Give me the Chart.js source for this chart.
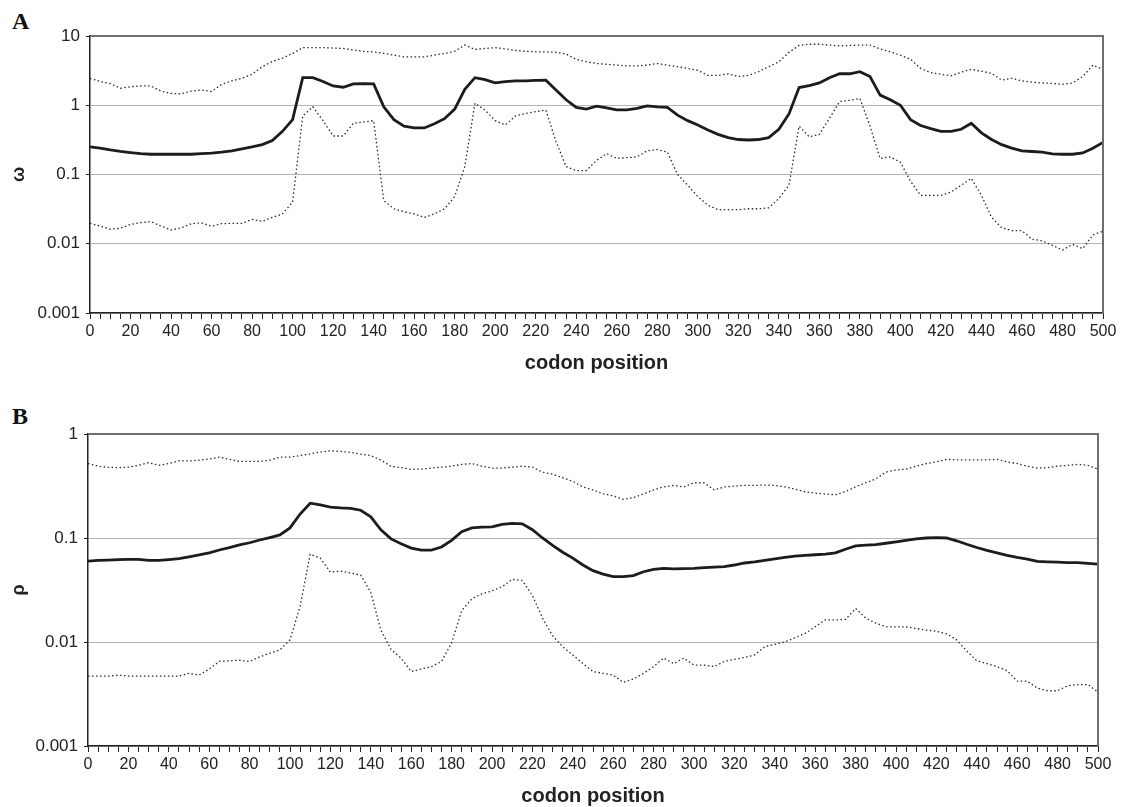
<!DOCTYPE html>
<html>
<head>
<meta charset="utf-8">
<script src="https://cdn.jsdelivr.net/npm/chart.js@4.4.1/dist/chart.umd.min.js"></script>
<style>
  body { margin: 0; background: #fff; width: 1125px; height: 807px; position: relative; overflow: hidden; }
  canvas { position: absolute; left: 0; }
  #chartA { top: 0; }
  #chartB { top: 400px; }
  .panel { position: absolute; left: 12px; font: bold 24px "Liberation Serif", "Times New Roman", serif; line-height: 1; color: #111; }
</style>
</head>
<body>
<div class="panel" style="top:9px">A</div>
<div class="panel" style="top:404px">B</div>
<canvas id="chartA" width="1125" height="375"></canvas>
<canvas id="chartB" width="1125" height="408"></canvas>
<script>
// codon positions, sampled every 5
const positions = [0,5,10,15,20,25,30,35,40,45,50,55,60,65,70,75,80,85,90,95,
  100,105,110,115,120,125,130,135,140,145,150,155,160,165,170,175,180,185,190,195,
  200,205,210,215,220,225,230,235,240,245,250,255,260,265,270,275,280,285,290,295,
  300,305,310,315,320,325,330,335,340,345,350,355,360,365,370,375,380,385,390,395,
  400,405,410,415,420,425,430,435,440,445,450,455,460,465,470,475,480,485,490,495,500];

// panel A: omega (mean, upper and lower bounds)
const omegaMean = [0.25,0.24,0.226,0.215,0.207,0.2,0.196,0.196,0.196,0.196,
  0.196,0.2,0.203,0.21,0.22,0.235,0.25,0.27,0.31,0.42,
  0.62,2.5,2.5,2.2,1.9,1.82,2.03,2.05,2.03,0.95,
  0.62,0.5,0.47,0.47,0.54,0.64,0.88,1.7,2.5,2.35,
  2.1,2.2,2.25,2.25,2.28,2.3,1.66,1.2,0.93,0.88,
  0.97,0.92,0.86,0.86,0.9,0.98,0.95,0.93,0.72,0.6,
  0.52,0.44,0.38,0.34,0.32,0.315,0.32,0.34,0.45,0.75,
  1.8,1.92,2.1,2.5,2.85,2.85,3.05,2.6,1.4,1.2,
  1.0,0.62,0.51,0.46,0.42,0.42,0.45,0.55,0.4,0.32,
  0.27,0.24,0.22,0.215,0.21,0.198,0.196,0.196,0.205,0.24,
  0.29];
const omegaUpper = [2.45,2.2,2.05,1.76,1.85,1.9,1.9,1.6,1.48,1.46,
  1.6,1.66,1.58,2.0,2.25,2.45,2.8,3.6,4.3,4.8,
  5.6,6.8,6.8,6.8,6.7,6.6,6.3,6.0,5.9,5.6,
  5.3,5.0,5.0,5.0,5.3,5.6,6.0,7.4,6.4,6.6,
  6.8,6.5,6.2,6.0,5.9,5.9,5.8,5.5,4.6,4.25,
  4.0,3.9,3.8,3.7,3.7,3.8,4.0,3.8,3.6,3.4,
  3.2,2.7,2.7,2.83,2.6,2.7,3.05,3.6,4.25,5.8,
  7.3,7.6,7.6,7.4,7.2,7.3,7.4,7.4,6.5,5.9,
  5.3,4.6,3.4,2.95,2.8,2.65,3.0,3.3,3.1,2.9,
  2.3,2.45,2.25,2.15,2.1,2.07,2.0,2.1,2.6,3.8,
  3.3];
const omegaLower = [0.0197,0.018,0.0162,0.0168,0.019,0.0202,0.0209,0.018,0.0158,0.017,
  0.0195,0.02,0.0179,0.0195,0.0197,0.0197,0.0225,0.021,0.024,0.027,
  0.04,0.7,0.95,0.6,0.36,0.36,0.55,0.57,0.6,0.042,
  0.032,0.029,0.027,0.024,0.027,0.032,0.048,0.13,1.07,0.85,
  0.6,0.52,0.7,0.76,0.81,0.85,0.3,0.13,0.114,0.114,
  0.16,0.2,0.171,0.175,0.18,0.22,0.23,0.21,0.1,0.07,
  0.048,0.036,0.031,0.031,0.031,0.032,0.032,0.033,0.045,0.07,
  0.5,0.35,0.38,0.65,1.13,1.18,1.25,0.5,0.17,0.18,
  0.15,0.08,0.05,0.05,0.05,0.056,0.07,0.088,0.05,0.024,
  0.017,0.0155,0.0155,0.0116,0.011,0.0095,0.0081,0.0098,0.0085,0.0134,
  0.0152];

// panel B: rho (mean, upper and lower bounds)
const rhoMean = [0.06,0.061,0.0614,0.062,0.0622,0.0622,0.061,0.061,0.062,0.0632,
  0.066,0.0687,0.072,0.0767,0.081,0.0857,0.09,0.0957,0.101,0.107,
  0.125,0.17,0.216,0.208,0.198,0.195,0.193,0.185,0.16,0.12,
  0.098,0.088,0.08,0.0765,0.0765,0.082,0.095,0.115,0.125,0.127,
  0.128,0.135,0.138,0.137,0.12,0.1,0.085,0.073,0.064,0.055,
  0.0485,0.045,0.0425,0.0425,0.0435,0.0474,0.05,0.051,0.0505,0.0508,
  0.051,0.052,0.0525,0.053,0.055,0.0575,0.059,0.061,0.063,0.065,
  0.067,0.068,0.069,0.07,0.072,0.078,0.084,0.0855,0.0865,0.089,
  0.092,0.095,0.098,0.1,0.101,0.1,0.094,0.087,0.081,0.076,
  0.072,0.068,0.065,0.0625,0.0595,0.059,0.0585,0.058,0.058,0.057,
  0.056];
const rhoUpper = [0.52,0.49,0.478,0.475,0.48,0.5,0.53,0.5,0.52,0.553,
  0.55,0.56,0.575,0.6,0.57,0.545,0.545,0.545,0.56,0.6,
  0.6,0.62,0.645,0.67,0.69,0.68,0.665,0.64,0.62,0.56,
  0.49,0.475,0.457,0.46,0.47,0.48,0.49,0.51,0.52,0.49,
  0.47,0.47,0.48,0.49,0.48,0.43,0.41,0.38,0.35,0.31,
  0.29,0.265,0.255,0.235,0.245,0.265,0.29,0.31,0.32,0.31,
  0.34,0.34,0.29,0.31,0.315,0.32,0.32,0.323,0.32,0.31,
  0.295,0.278,0.27,0.265,0.26,0.28,0.31,0.34,0.37,0.43,
  0.45,0.46,0.49,0.52,0.54,0.57,0.565,0.565,0.565,0.565,
  0.57,0.54,0.52,0.49,0.47,0.475,0.49,0.5,0.51,0.5,
  0.46];
const rhoLower = [0.0047,0.0047,0.0047,0.0048,0.0047,0.0047,0.0047,0.0047,0.0047,0.0047,
  0.005,0.0048,0.0055,0.0065,0.0066,0.0067,0.0065,0.0072,0.0078,0.0084,
  0.0105,0.022,0.07,0.064,0.047,0.048,0.046,0.044,0.03,0.013,
  0.0085,0.007,0.0052,0.0055,0.0058,0.0065,0.0098,0.02,0.026,0.029,
  0.031,0.034,0.04,0.039,0.028,0.017,0.0115,0.009,0.0075,0.0062,
  0.0052,0.005,0.0048,0.0041,0.0044,0.005,0.0058,0.007,0.0062,0.007,
  0.006,0.006,0.0058,0.0065,0.0068,0.0071,0.0075,0.009,0.0095,0.01,
  0.011,0.0121,0.014,0.0163,0.0163,0.0165,0.021,0.017,0.0152,0.014,
  0.014,0.014,0.0135,0.013,0.0127,0.012,0.0105,0.0082,0.0066,0.0062,
  0.0058,0.0053,0.0042,0.0042,0.0036,0.0034,0.0034,0.0038,0.0039,0.0039,
  0.0033];

const yTicksA = [0.001, 0.01, 0.1, 1, 10];
const yTicksB = [0.001, 0.01, 0.1, 1];

Chart.defaults.font.family = '"Liberation Sans", Arial, sans-serif';
Chart.defaults.color = '#222';

// grey frame on top and right of the plot area
const framePlugin = {
  id: 'frame',
  afterDraw(chart) {
    const { ctx, chartArea: a } = chart;
    ctx.save();
    ctx.strokeStyle = '#6e6e6e';
    ctx.lineWidth = 2;
    ctx.beginPath();
    ctx.moveTo(a.left, a.top);
    ctx.lineTo(a.right, a.top);
    ctx.lineTo(a.right, a.bottom);
    ctx.stroke();
    ctx.restore();
  }
};

function toPoints(vals) {
  return positions.map((x, i) => ({ x, y: vals[i] }));
}

function lineSet(vals, dotted) {
  return {
    data: toPoints(vals),
    borderColor: dotted ? '#2a2a2a' : '#1c1c1c',
    borderWidth: dotted ? 1.3 : 2.8,
    borderDash: dotted ? [1.5, 2.5] : [],
    pointRadius: 0,
    tension: 0,
    fill: false
  };
}

function makeChart(id, series, yMax, yTicks, yTitle, axisWidth, pad) {
  return new Chart(document.getElementById(id), {
    type: 'line',
    data: { datasets: series.map((s, i) => lineSet(s, i > 0)) },
    options: {
      responsive: false,
      animation: false,
      layout: { padding: pad },
      plugins: { legend: { display: false }, tooltip: { enabled: false } },
      scales: {
        x: {
          type: 'linear',
          min: 0,
          max: 500,
          afterFit: s => { s.height = 62; },
          grid: { drawOnChartArea: false, drawTicks: true, tickLength: 6, tickColor: '#222' },
          border: { color: '#222', width: 1.5 },
          ticks: {
            stepSize: 5,
            autoSkip: false,
            maxRotation: 0,
            padding: 3,
            font: { size: 16 },
            callback: v => (v % 20 === 0 ? String(v) : '')
          },
          title: { display: true, text: 'codon position', font: { size: 20, weight: 'bold' }, padding: { top: 0, bottom: 0 } }
        },
        y: {
          type: 'logarithmic',
          min: 0.001,
          max: yMax,
          afterFit: s => { s.width = axisWidth; },
          afterBuildTicks: s => { s.ticks = yTicks.map(v => ({ value: v })); },
          grid: { color: '#b4b4b4', lineWidth: 1, tickColor: '#222', tickLength: 4 },
          border: { color: '#222', width: 1.5 },
          ticks: { padding: 6, font: { size: 17 }, callback: v => String(v) },
          title: { display: true, text: yTitle, font: { size: 18, weight: 'bold' }, padding: { top: 8, bottom: 0 } }
        }
      }
    },
    plugins: [framePlugin]
  });
}

makeChart('chartA', [omegaMean, omegaUpper, omegaLower], 10, yTicksA, 'ω', 90,
  { top: 36, right: 22, left: 0, bottom: 0 });
makeChart('chartB', [rhoMean, rhoUpper, rhoLower], 1, yTicksB, 'ρ', 88,
  { top: 34, right: 27, left: 0, bottom: 0 });
</script>
</body>
</html>
